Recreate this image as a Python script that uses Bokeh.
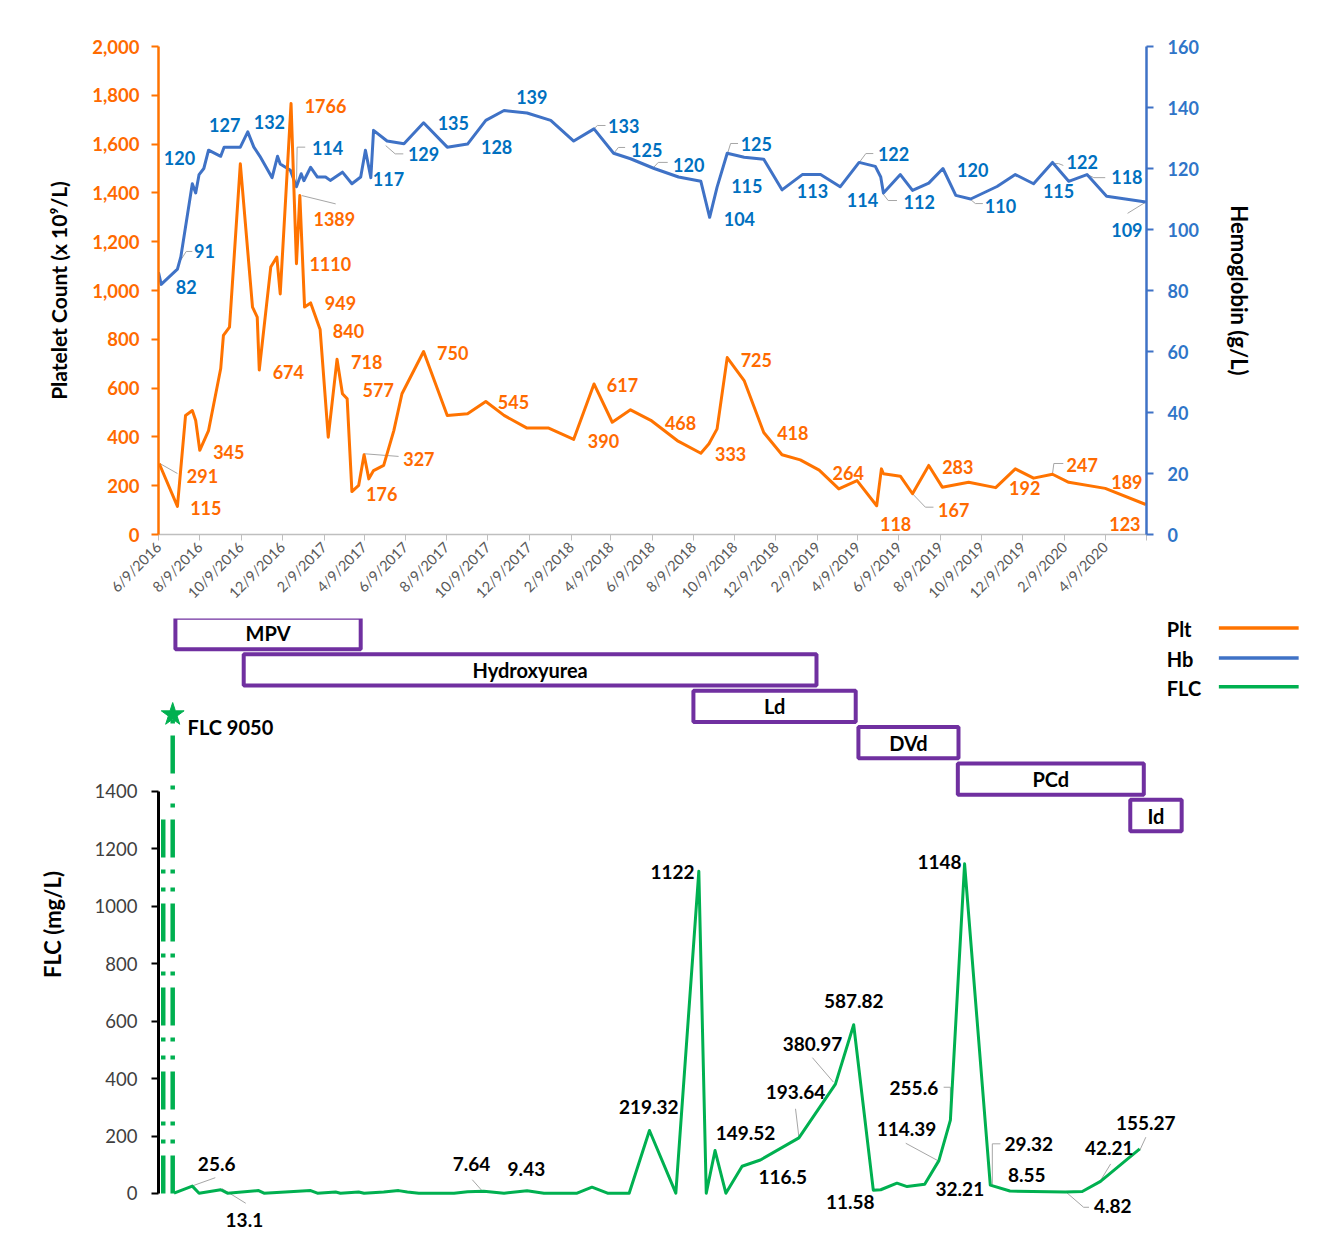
import math
import pandas as pd
from bokeh.plotting import figure
from bokeh.layouts import column
from bokeh.models import Range1d, LinearAxis, FixedTicker, NumeralTickFormatter
from bokeh.core.properties import value
from bokeh.embed import file_html
from bokeh.resources import INLINE

# ---------------- data ----------------
START = "6/9/2016"
END = "6/9/2020"

tick_labels = ["6/9/2016", "8/9/2016", "10/9/2016", "12/9/2016",
               "2/9/2017", "4/9/2017", "6/9/2017", "8/9/2017", "10/9/2017", "12/9/2017",
               "2/9/2018", "4/9/2018", "6/9/2018", "8/9/2018", "10/9/2018", "12/9/2018",
               "2/9/2019", "4/9/2019", "6/9/2019", "8/9/2019", "10/9/2019", "12/9/2019",
               "2/9/2020", "4/9/2020"]

# days since 6/9/2016
plt_day = [1, 28, 40, 50, 55, 61, 74, 92, 96, 105, 121, 139, 146, 149, 166, 175, 180, 196, 204, 209,
           216, 225, 239, 251, 264, 272, 279, 286, 296, 304, 311, 318, 333, 348, 360, 392, 427, 457,
           484, 511, 545, 577, 614, 644, 671, 698, 728, 767, 802, 814, 826, 841, 866, 895, 922, 949,
           977, 1006, 1033, 1062, 1069, 1072, 1097, 1115, 1139, 1159, 1198, 1238, 1267, 1294, 1322,
           1346, 1400, 1460]
plt_val = [291, 115, 488, 508, 467, 345, 426, 680, 816, 850, 1519, 932, 891, 674, 1096, 1137, 986,
           1766, 1110, 1389, 932, 949, 840, 399, 718, 577, 556, 176, 201, 327, 228, 262, 283, 426,
           577, 750, 488, 495, 545, 488, 436, 436, 390, 617, 460, 511, 468, 385, 333, 372, 433, 725,
           631, 418, 327, 306, 264, 187, 221, 118, 269, 249, 239, 167, 283, 194, 214, 192, 269, 231,
           247, 214, 189, 123]

hb_day = [0, 4, 28, 33, 50, 55, 60, 67, 74, 92, 97, 121, 132, 141, 150, 168, 176, 180, 195, 204,
          211, 215, 225, 235, 247, 254, 272, 286, 299, 306, 314, 318, 338, 363, 392, 427, 457, 484,
          511, 545, 580, 614, 644, 673, 698, 733, 769, 802, 815, 826, 841, 866, 895, 922, 952, 979,
          1008, 1036, 1060, 1068, 1072, 1097, 1115, 1139, 1160, 1179, 1201, 1240, 1267, 1294, 1322,
          1346, 1373, 1402, 1460]
hb_val = [86, 82, 87, 91, 115, 112, 118, 120, 126, 124, 127, 127, 132, 127, 124, 117, 124, 121.5,
          119.4, 114, 118.3, 116, 120.4, 117.2, 117.2, 116.1, 118.8, 115, 117.2, 126, 117, 132.5, 129,
          128.1, 135, 127, 128, 135.8, 139, 138.2, 135.8, 129, 133, 125, 123.2, 120, 117.2, 115.8,
          104, 113.9, 125, 123.7, 123, 113, 118, 118, 114, 122, 120.7, 117.2, 112, 118, 112.8, 115.2,
          120, 111.2, 110, 114.1, 118, 115, 122, 115.8, 118, 110.9, 109]

flc_day = [23, 50, 60, 92, 102, 148, 156, 225, 235, 262, 269, 296, 304, 333, 355, 368, 385, 437,
           457, 481, 511, 545, 570, 619, 641, 664, 696, 726, 765, 799, 810, 823, 839, 863, 890, 947,
           1001, 1028, 1057, 1068, 1092, 1107, 1133, 1154, 1171, 1192, 1230, 1259, 1341, 1366, 1393,
           1451]
flc_val = [1, 25.6, 1, 13.1, 1, 10, 1, 10, 1, 5, 1, 5, 1, 5, 10, 5, 1, 1, 6, 7.64, 1, 9.43, 1, 1,
           22, 1, 1, 219.32, 1, 1122, 1, 149.52, 1, 95, 116.5, 193.64, 380.97, 587.82, 11.58, 13, 36,
           24, 32.21, 114.39, 255.6, 1148, 29.32, 8.55, 4.82, 7, 42.21, 155.27]

# off-scale first FLC value (drawn broken, with a star)
flc_first = 9050
flc_spike_day = [7, 21]
flc_break = [1341, 1668]

treat_name = ["MPV", "Hydroxyurea", "Ld", "DVd", "PCd", "Id"]
treat_start = [25, 126, 791, 1035, 1182, 1437]
treat_end = [299, 973, 1031, 1183, 1457, 1513]

# data labels: text, anchor day, anchor value
plt_lab = [("1766", 247, 1758), ("1389", 260, 1291), ("1110", 254, 1107), ("949", 269, 947),
           ("840", 281, 832), ("674", 192, 668), ("718", 308, 709), ("577", 325, 594),
           ("345", 104, 340), ("291", 65, 238), ("115", 70, 107), ("327", 385, 311),
           ("176", 330, 168), ("750", 435, 742), ("545", 525, 541), ("617", 686, 611),
           ("390", 658, 385), ("468", 772, 459), ("333", 846, 328), ("725", 884, 717),
           ("418", 938, 414), ("264", 1020, 254), ("118", 1090, 41), ("167", 1176, 102),
           ("283", 1182, 275), ("192", 1281, 189), ("247", 1366, 283), ("189", 1432, 217),
           ("123", 1429, 45)]
hb_lab = [("82", 41, 81.3), ("91", 68, 92.8), ("120", 31, 123.3), ("127", 98, 134.1),
          ("132", 164, 135.4), ("114", 250, 126.6), ("117", 340, 116.7), ("129", 392, 124.6),
          ("135", 436, 134.8), ("128", 500, 127.2), ("139", 552, 143.3), ("133", 688, 133.8),
          ("125", 722, 126.2), ("120", 784, 121.3), ("104", 859, 103.6), ("125", 884, 127.9),
          ("115", 870, 114.1), ("113", 967, 112.5), ("122", 1087, 124.6), ("114", 1041, 109.8),
          ("112", 1125, 108.9), ("120", 1204, 119.4), ("110", 1245, 107.6), ("122", 1366, 122),
          ("115", 1331, 112.5), ("118", 1432, 117.1), ("109", 1432, 99.7)]
flc_lab = [("25.6", 86, 101), ("13.1", 127, -91), ("7.64", 463, 101), ("9.43", 544, 87),
           ("219.32", 725, 300), ("1122", 760, 1118), ("149.52", 868, 209), ("116.5", 923, 59),
           ("193.64", 942, 352), ("380.97", 967, 522), ("587.82", 1028, 669), ("11.58", 1023, -31),
           ("255.6", 1117, 366), ("114.39", 1106, 226), ("32.21", 1185, 17), ("1148", 1155, 1156),
           ("29.32", 1287, 174), ("8.55", 1284, 63), ("4.82", 1411, -42), ("42.21", 1406, 157),
           ("155.27", 1460, 247)]

# leader lines (day, value) polylines
plt_lead = [([2, 28], [291, 250]), ([212, 262], [1389, 1355]), ([304, 355], [331, 320]),
            ([1115, 1134, 1146], [167, 112, 112]), ([1322, 1324, 1338], [249, 291, 291])]
hb_lead = [([33, 41, 50], [90, 92.8, 92.8]), ([204, 205, 217], [114, 127, 127]),
           ([336, 350, 362], [127.5, 124.8, 124.8]), ([643, 649, 661], [132.8, 134.1, 134.1]),
           ([673, 680, 690], [124.9, 126.9, 126.9]), ([732, 739, 753], [120.3, 122, 122]),
           ([841, 846, 857], [124.6, 128.2, 128.2]), ([1035, 1046, 1057], [121.6, 124.9, 124.9]),
           ([1071, 1079, 1092], [111.8, 109.5, 109.5]), ([1201, 1208, 1219], [109.8, 108.5, 108.5]),
           ([1322, 1331, 1338], [121.6, 121.6, 121.0]), ([1374, 1383, 1400], [118, 117, 117]),
           ([1460, 1433], [109, 105.3])]
flc_lead = [([52, 84], [28, 55]), ([94, 129], [17, -34]), ([479, 464], [8, 48]),
            ([947, 942], [196, 295]), ([998, 967], [388, 473]),
            ([1171, 1171, 1161], [254, 370, 370]), ([1152, 1105], [115, 175]),
            ([1233, 1233, 1245], [30, 173, 173]), ([1341, 1368, 1376], [7, -48, -48]),
            ([1393, 1408], [45, 103]), ([1451, 1460], [150, 196])]

legend_names = ["Plt", "Hb", "FLC"]

# ---------------- style ----------------
FONT = "Lato"
ORANGE = "#FF7300"
ORANGE_TXT = "#FF6A00"
BLUE = "#3F72C6"
BLUE_TXT = "#0070C0"
GREEN = "#00B050"
PURPLE = "#7030A0"
LEADER = "#A6A6A6"

start = pd.to_datetime(START, format="%m/%d/%Y")
end = pd.to_datetime(END, format="%m/%d/%Y")
span = int((end - start).days)
tick_dates = pd.to_datetime(tick_labels + [END], format="%m/%d/%Y")
tick_days = [int((d - start).days) for d in tick_dates]
overrides = {d: lab for d, lab in zip(tick_days, tick_labels + [""])}


def style_axis(ax, line_color, text_color, bold=True, size="18px"):
    ax.axis_line_color = line_color
    ax.axis_line_width = 2.5
    ax.major_tick_line_color = line_color
    ax.major_tick_line_width = 2
    ax.major_tick_in = 0
    ax.major_tick_out = 7
    ax.minor_tick_line_color = None
    ax.major_label_text_color = text_color
    ax.major_label_text_font = FONT
    ax.major_label_text_font_size = size
    ax.major_label_text_font_style = "bold" if bold else "normal"
    ax.major_label_standoff = 8
    ax.axis_label_text_font = FONT
    ax.axis_label_text_font_style = "bold"
    ax.axis_label_text_font_size = "21px"
    ax.axis_label_text_color = "black"


def labels(fig, lab, color, size, **kw):
    fig.text(x=[l[1] for l in lab], y=[l[2] for l in lab], text=[l[0] for l in lab],
             text_color=color, text_font=value(FONT), text_font_style="bold",
             text_font_size=size, text_align="center", text_baseline="middle", **kw)


# ---------------- top chart ----------------
FW, FH = 988, 488
LEFT = 158
TOTAL_W = 1326
top = figure(frame_width=FW, frame_height=FH, min_border_left=LEFT,
             min_border_right=TOTAL_W - LEFT - FW,
             min_border_top=46, min_border_bottom=84, x_range=Range1d(0, span),
             y_range=Range1d(0, 2000), output_backend="svg", toolbar_location=None)
top.extra_y_ranges = {"hb": Range1d(0, 160)}
top.outline_line_color = None
top.grid.visible = False

ya = top.yaxis[0]
ya.ticker = FixedTicker(ticks=list(range(0, 2001, 200)))
ya.formatter = NumeralTickFormatter(format="0,0")
ya.axis_label = "Platelet Count (x 10\u2079/L)"
style_axis(ya, ORANGE, ORANGE_TXT, size="18.5px")
ya.major_label_standoff = 12
ya.axis_label_standoff = 18

hb_axis = LinearAxis(y_range_name="hb", ticker=FixedTicker(ticks=list(range(0, 161, 20))),
                     axis_label="Hemoglobin (g/L)")
style_axis(hb_axis, BLUE, "#2F75C8")
hb_axis.major_label_standoff = 14
hb_axis.axis_label_standoff = 24
hb_axis.axis_label_text_font_size = "22px"
top.add_layout(hb_axis, "right")

xa = top.xaxis[0]
xa.ticker = FixedTicker(ticks=tick_days)
xa.major_label_overrides = overrides
xa.major_label_orientation = math.pi / 4
xa.axis_line_color = "#BFBFBF"
xa.axis_line_width = 1.5
xa.major_tick_line_color = "#BFBFBF"
xa.major_tick_in = 0
xa.major_tick_out = 6
xa.minor_tick_line_color = None
xa.major_label_text_color = "#595959"
xa.major_label_text_font = FONT
xa.major_label_text_font_size = "14.5px"
xa.major_label_standoff = 4

top.multi_line(xs=[l[0] for l in plt_lead], ys=[l[1] for l in plt_lead], line_color=LEADER, line_width=1)
top.multi_line(xs=[l[0] for l in hb_lead], ys=[l[1] for l in hb_lead], line_color=LEADER, line_width=1,
               y_range_name="hb")
top.line(hb_day, hb_val, y_range_name="hb", line_color=BLUE, line_width=3, line_join="round")
top.line(plt_day, plt_val, line_color=ORANGE, line_width=3, line_join="round")
labels(top, plt_lab, ORANGE_TXT, "18px")
labels(top, hb_lab, BLUE_TXT, "18px", y_range_name="hb")

# ---------------- bottom chart ----------------
BFW, BFH = 1160, 612
bot = figure(frame_width=BFW, frame_height=BFH, min_border_left=LEFT,
             min_border_right=TOTAL_W - LEFT - BFW,
             min_border_top=0, min_border_bottom=8, x_range=Range1d(0, span * BFW / FW),
             y_range=Range1d(-128.9, 2002.5), x_axis_location=None,
             output_backend="svg", toolbar_location=None)
bot.extra_y_ranges = {"rows": Range1d(16.40, -0.412)}
bot.outline_line_color = None
bot.grid.visible = False

fa = bot.yaxis[0]
fa.ticker = FixedTicker(ticks=list(range(0, 1401, 200)))
fa.bounds = (0, 1400)
fa.axis_label = "FLC (mg/L)"
style_axis(fa, "black", "#404040", bold=False, size="18.5px")
fa.axis_line_width = 3
fa.major_label_standoff = 14
fa.axis_label_standoff = 26
fa.axis_label_text_font_size = "22px"

# treatment boxes
rows = list(range(len(treat_name)))
bot.quad(left=treat_start, right=treat_end, top=[r - 0.43 for r in rows],
         bottom=[r + 0.43 for r in rows], y_range_name="rows",
         fill_color="white", line_color=PURPLE, line_width=4)
bot.text(x=[(a + b) / 2 for a, b in zip(treat_start, treat_end)], y=rows, text=treat_name,
         y_range_name="rows", text_font=value(FONT), text_font_style="bold",
         text_font_size="20px", text_align="center", text_baseline="middle", text_color="black")

# legend (label then line)
leg_rows = [-0.11, 0.71, 1.5]
leg_colors = [ORANGE, BLUE, GREEN]
bot.text(x=[1491] * 3, y=leg_rows, text=legend_names, y_range_name="rows",
         text_font=value(FONT), text_font_style="bold", text_font_size="20px",
         text_align="left", text_baseline="middle", text_color="black")
bot.segment(x0=[1568] * 3, x1=[1686] * 3, y0=[r - 0.04 for r in leg_rows],
            y1=[r - 0.04 for r in leg_rows], y_range_name="rows",
            line_color=leg_colors, line_width=3.5)

# off-scale first FLC value
for d, top_v in zip(flc_spike_day, flc_break):
    bot.line([d, d], [0, top_v], line_color=GREEN, line_width=4.5, line_dash="38 12 4 14 4 12")
bot.scatter([flc_spike_day[1]], [flc_break[1]], marker="star", size=24, color=GREEN)
bot.text(x=[43], y=[1626], text=["FLC %d" % flc_first], text_font=value(FONT),
         text_font_style="bold", text_font_size="20px", text_align="left",
         text_baseline="middle", text_color="black")

bot.multi_line(xs=[l[0] for l in flc_lead], ys=[l[1] for l in flc_lead], line_color=LEADER, line_width=1)
bot.line(flc_day, flc_val, line_color=GREEN, line_width=3, line_join="round")
labels(bot, flc_lab, "black", "19px")

layout = column(top, bot, spacing=0)
open("out.html", "w").write(file_html(layout, INLINE))
